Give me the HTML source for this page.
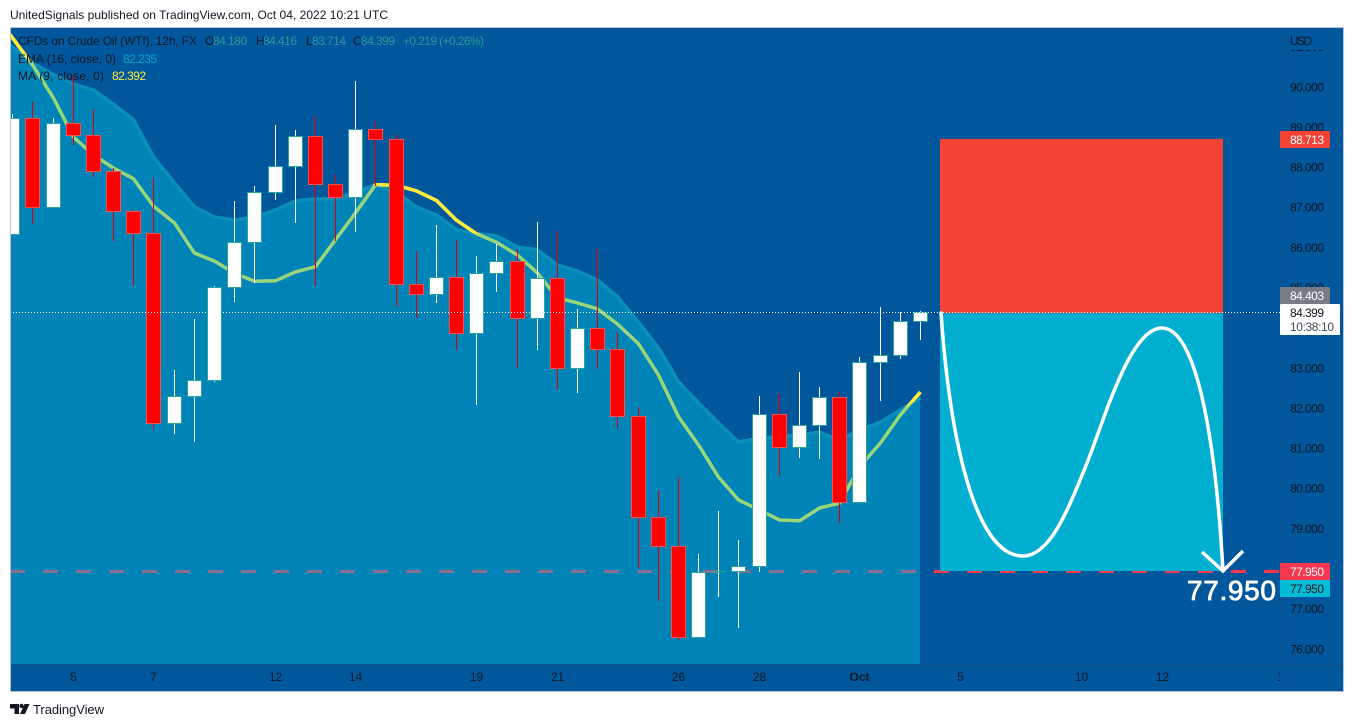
<!DOCTYPE html>
<html lang="en">
<head>
<meta charset="utf-8">
<title>CFDs on Crude Oil (WTI) 12h chart</title>
<style>
html,body{margin:0;padding:0;background:#fff;width:1354px;height:727px;overflow:hidden}
svg{display:block}
text{font-family:"Liberation Sans",Arial,sans-serif}
</style>
</head>
<body>
<svg id="root" xmlns="http://www.w3.org/2000/svg" width="1354" height="727" viewBox="0 0 1354 727">
  <rect x="0" y="0" width="1354" height="727" fill="#ffffff"/>
  <text x="10" y="19" font-size="12" fill="#131722" textLength="378" lengthAdjust="spacing">UnitedSignals published on TradingView.com, Oct 04, 2022 10:21 UTC</text>
  <rect x="10.5" y="27.5" width="1333" height="664" fill="#00579c" stroke="#b4c3da" stroke-width="1"/>
  <defs>
    <clipPath id="plotClip"><rect x="11" y="28" width="1269" height="636"/></clipPath>
    <clipPath id="aboveEma"><path id="aboveEmaPath" d=""/></clipPath>
  </defs>
  <g id="plot" clip-path="url(#plotClip)"></g>
  <line x1="11" y1="664.5" x2="1343" y2="664.5" stroke="#0f4f8b" stroke-width="1"/>
  <line x1="1280.5" y1="28" x2="1280.5" y2="691" stroke="#0f4f8b" stroke-width="1"/>
  <g id="timeAxis"></g>
  <g id="priceAxis"></g>
  <rect x="1281" y="28" width="62" height="22" fill="#00579c"/>
  <text x="1290" y="45" font-size="12" fill="#131722" textLength="22" lengthAdjust="spacing">USD</text>
  <g id="tags"></g>

  <g font-size="12">
    <text x="18" y="45" fill="#131722" textLength="179" lengthAdjust="spacing">CFDs on Crude Oil (WTI), 12h, FX</text>
    <text x="205" y="45" fill="#131722">O</text>
    <text x="213" y="45" fill="#2a9a94" textLength="34" lengthAdjust="spacing">84.180</text>
    <text x="256" y="45" fill="#131722">H</text>
    <text x="263" y="45" fill="#2a9a94" textLength="34" lengthAdjust="spacing">84.416</text>
    <text x="306" y="45" fill="#131722">L</text>
    <text x="312" y="45" fill="#2a9a94" textLength="34" lengthAdjust="spacing">83.714</text>
    <text x="353" y="45" fill="#131722">C</text>
    <text x="361" y="45" fill="#2a9a94" textLength="34" lengthAdjust="spacing">84.399</text>
    <text x="403" y="45" fill="#2a9a94" textLength="81" lengthAdjust="spacing">+0.219 (+0.26%)</text>
    <text x="18" y="63" fill="#131722" textLength="98" lengthAdjust="spacing">EMA (16, close, 0)</text>
    <text x="123" y="63" fill="#00a9cc" textLength="34" lengthAdjust="spacing">82.235</text>
    <text x="18" y="80" fill="#131722" textLength="86" lengthAdjust="spacing">MA (9, close, 0)</text>
    <text x="112" y="80" fill="#ffeb3b" textLength="34" lengthAdjust="spacing">82.392</text>
  </g>

  <g>
    <path d="M10 704h9v10h-4.500v-5.500H10z M24.500 704H29.500L25 714H20z" fill="#131722"/>
    <circle cx="21.500" cy="706" r="2.200" fill="#131722"/>
    <text x="33" y="714" font-size="13" fill="#131722" textLength="71" lengthAdjust="spacing">TradingView</text>
  </g>
</svg>

<script>
// ---- Chart data (prices) ----
const opens = [86.34,89.23,87.03,89.10,88.80,87.92,86.91,86.36,81.63,82.30,82.70,85.02,86.15,87.38,88.03,88.78,87.58,87.26,88.95,88.70,85.09,84.84,85.27,83.87,85.37,85.67,84.25,85.24,83.00,84.00,83.47,81.80,79.29,78.57,76.30,77.94,77.94,78.07,81.85,81.03,81.58,82.28,79.66,83.15,83.32,84.18];
const highs = [89.34,89.63,89.24,90.31,89.46,87.99,86.94,87.75,82.96,84.23,85.05,87.17,87.54,89.06,88.94,89.29,87.82,90.16,89.14,88.84,85.91,86.57,86.20,85.80,86.10,85.95,86.64,86.42,84.47,85.97,83.91,82.04,79.94,80.28,78.37,79.44,78.72,82.31,82.37,82.91,82.53,82.41,83.28,84.53,84.40,84.42];
const lows = [86.34,86.59,87.03,88.56,87.77,86.17,85.06,81.49,81.36,81.17,82.67,84.66,85.13,87.18,86.63,85.06,86.17,86.40,87.54,84.53,84.26,84.63,83.46,82.09,84.91,83.01,83.46,82.48,82.39,82.97,81.51,78.03,77.20,76.23,76.30,77.29,76.54,77.93,80.32,80.77,80.75,79.14,79.66,82.19,83.23,83.71];
const closes = [89.23,87.03,89.10,88.80,87.92,86.91,86.36,81.63,82.30,82.70,85.02,86.15,87.38,88.03,88.78,87.58,87.26,88.95,88.70,85.09,84.84,85.27,83.87,85.37,85.67,84.25,85.24,83.00,84.00,83.47,81.80,79.29,78.57,76.30,77.93,77.94,78.07,81.85,81.03,81.58,82.28,79.66,83.15,83.32,84.17,84.40];
const emaValues = [91.00,90.61,90.31,90.08,89.93,89.58,89.19,88.26,87.62,87.02,86.77,86.69,86.77,86.94,87.17,87.22,87.22,87.39,87.57,87.39,87.02,86.82,86.45,86.35,86.30,86.02,85.95,85.57,85.42,85.20,84.78,84.15,83.51,82.66,82.14,81.64,81.16,81.26,81.29,81.34,81.41,81.21,81.46,81.66,81.96,82.26];
const maValues = [91.23,90.56,89.73,88.76,88.31,87.99,87.72,87.04,86.62,85.87,85.67,85.37,85.17,85.18,85.40,85.53,86.20,86.87,87.57,87.56,87.42,87.18,86.69,86.35,86.14,85.82,85.37,84.75,84.63,84.48,84.10,83.61,82.83,81.79,81.09,80.29,79.72,79.47,79.22,79.20,79.52,79.64,80.54,81.14,81.84,82.41];
const priceTicks = [91,90,89,88,87,86,85,84,83,82,81,80,79,78,77,76];
const timeBars = [3,7,13,17,23,27,33,37,42,47,53,57,63];
const timeLabels = ["5","7","12","14","19","21","26","28","Oct","5","10","12","14"];
const targetPrice = 77.95;
const stopPrice = 88.713;
const entryPrice = 84.403;
const lastPrice = 84.399;

// ---- Axis functions ----
const SVGNS = "http://www.w3.org/2000/svg";
function yOf(price){ return 87.3 + (90 - price) * 40.14; }
function xOf(bar){ return Math.floor(12.8 + 20.17 * bar) + 0.5; }
function el(tag, parent, attrs){
  const node = document.createElementNS(SVGNS, tag);
  for (const k in attrs) node.setAttribute(k, attrs[k]);
  parent.appendChild(node);
  return node;
}
// Series path; the first segment is continued back to the left edge of the plot.
function linePath(values){
  const slope = (yOf(values[1]) - yOf(values[0])) / (xOf(1) - xOf(0));
  const lead = "M9 " + (yOf(values[0]) + (9 - xOf(0)) * slope).toFixed(1) + " ";
  return lead + values.map((v,i)=>"L"+xOf(i)+" "+yOf(v).toFixed(1)).join(" ");
}

const plot = document.getElementById("plot");
const lastBar = emaValues.length - 1;

// EMA area
const emaD = linePath(emaValues);
const emaArea = el("path", plot, {d:emaD+" L"+(xOf(lastBar)-0.5)+" "+yOf(emaValues[lastBar]).toFixed(1)+" L"+(xOf(lastBar)-0.5)+" 664 L9 664 Z", fill:"#0083b6"});


const emaLine = el("path", plot, {d:emaD, fill:"none", stroke:"#0a8fb9", "stroke-width":3.5, "stroke-linejoin":"round"});



// Region above the EMA, where the MA line shows in its own yellow colour
document.getElementById("aboveEmaPath").setAttribute("d", "M0 0 L0 "+yOf(emaValues[0]).toFixed(1)+" "+emaD.replace(/^M/,"L")+" L1354 "+yOf(emaValues[lastBar]).toFixed(1)+" L1354 0 Z");

// MA line
const maD = linePath(maValues);
const maLine = el("path", plot, {d:maD, fill:"none", stroke:"#97d67a", "stroke-width":3.5, "stroke-linejoin":"round"});


const maAbove = el("path", plot, {d:maD, fill:"none", stroke:"#ffeb3b", "stroke-width":3.5, "stroke-linejoin":"round", "clip-path":"url(#aboveEma)"});



// Target dashed line
const yTarget = yOf(targetPrice);
const yDash = Math.round(yTarget) + 0.5;
const dashLeft = el("line", plot, {x1:10, x2:920, y1:yDash, y2:yDash, stroke:"#8a708e", "stroke-width":3, "stroke-dasharray":"15 18"});


const dashRight = el("line", plot, {x1:934, x2:1280, y1:yDash, y2:yDash, stroke:"#f7374f", "stroke-width":3, "stroke-dasharray":"15 18"});



// Candles
opens.forEach((o,i)=>{
  const c = closes[i], up = c >= o, cx = xOf(i);
  const g = el("g", plot, {});
  
  
  const yHigh = Math.round(yOf(highs[i])), yLow = Math.round(yOf(lows[i]));
  const wick = el("rect", g, {x:cx-0.5, y:yHigh, width:1, height:Math.max(yLow-yHigh,1), fill: up ? "#ffffff" : "#e00000"});
  
  
  const yTop = Math.round(yOf(Math.max(o,c))) + 0.5, yBot = Math.round(yOf(Math.min(o,c))) + 0.5;
  const body = el("rect", g, {x:cx-7, y:yTop, width:14, height:Math.max(yBot-yTop,0.2), fill: up ? "#ffffff" : "#ff0000", stroke: up ? "#26a69a" : "#ef5350", "stroke-width":1});
  
  
});

// Position boxes
const yStop = yOf(stopPrice), yEntry = yOf(entryPrice) + 1.3;
const stopBox = el("rect", plot, {x:940, y:yStop, width:283, height:yEntry-yStop, fill:"#f44336"});


const profitBox = el("rect", plot, {x:940, y:yEntry, width:283, height:yTarget-yEntry, fill:"#00afcf"});



// Last-price dotted line
const yLast = Math.round(yOf(lastPrice)) + 0.5;
const lastLine = el("line", plot, {x1:10, x2:1280, y1:yLast, y2:yLast, stroke:"#ffffff", "stroke-width":1, "stroke-dasharray":"1 2"});



// Annotation: forecast curve and arrow
const curve = el("path", plot, {d:"M941 313 C950 440 975 556 1023 556 C1050 556 1068 510 1087 463 C1105 418 1130 328 1162 328 C1195 328 1215 430 1223 571", fill:"none", stroke:"#ffffff", "stroke-width":3.5, "stroke-linecap":"round"});


const arrow = el("path", plot, {d:"M1202 552 L1223 571 L1243 551", fill:"none", stroke:"#ffffff", "stroke-width":3.5});


const targetText = el("text", plot, {x:1187, y:600, "font-size":28, fill:"#ffffff", stroke:"#ffffff", "stroke-width":0.8, textLength:89, lengthAdjust:"spacing"});
targetText.textContent = targetPrice.toFixed(3);



// Time axis
const timeAxis = document.getElementById("timeAxis");
const timeClip = el("clipPath", timeAxis, {id:"timeClip"});
el("rect", timeClip, {x:11, y:665, width:1269, height:26});
timeLabels.forEach((label,i)=>{
  const t = el("text", timeAxis, {x:xOf(timeBars[i]), y:681, "font-size":12, fill:"#131722", "text-anchor":"middle", "clip-path":"url(#timeClip)", "font-weight": label === "Oct" ? "bold" : "normal"});
  t.textContent = label;
  
  
});

// Price axis
const priceAxis = document.getElementById("priceAxis");
priceTicks.forEach(p=>{
  const t = el("text", priceAxis, {x:1290, y:yOf(p)+4, "font-size":12, fill:"#131722", textLength:34, lengthAdjust:"spacing"});
  t.textContent = p.toFixed(3);
  
  
});

// Price tags
const tags = document.getElementById("tags");
function addTag(price, yTop, h, w, bg, fg){
  const g = el("g", tags, {});
  el("rect", g, {x:1280, y:yTop, width:w, height:h, rx:1, fill:bg});
  const t = el("text", g, {x:1290, y:yTop+13, "font-size":12, fill:fg, textLength:34, lengthAdjust:"spacing"});
  t.textContent = price.toFixed(3);
  return g;
}
const stopTag = addTag(stopPrice, 131, 17, 50, "#f44336", "#ffffff");


const entryTag = addTag(entryPrice, 287, 17, 50, "#787b86", "#ffffff");


const lastTag = addTag(lastPrice, 304, 31, 60, "#ffffff", "#131722");


const countdown = el("text", lastTag, {x:1290, y:331, "font-size":12, fill:"#434651", textLength:44, lengthAdjust:"spacing"});
countdown.textContent = "10:38:10";


const targetTagRed = addTag(targetPrice, 563, 17, 50, "#f7374f", "#ffffff");


const targetTagTeal = addTag(targetPrice, 580, 17, 50, "#00bcd4", "#131722");


</script>
</body>
</html>
